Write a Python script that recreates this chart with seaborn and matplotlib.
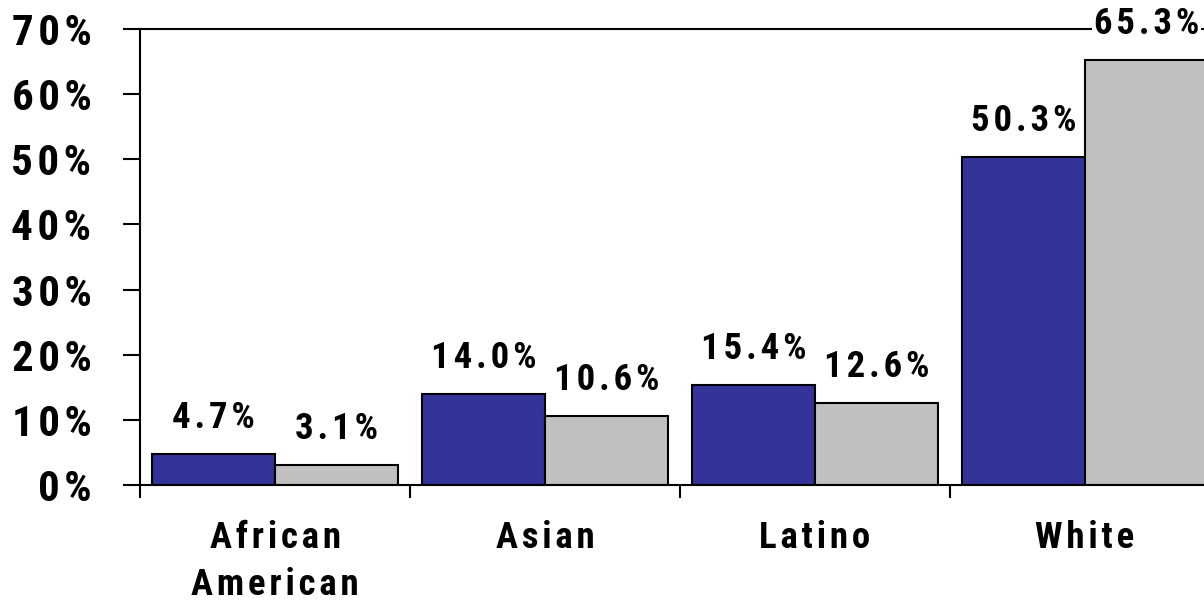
import matplotlib
matplotlib.use("Agg")
import matplotlib.pyplot as plt
import seaborn as sns
import pandas as pd
from matplotlib.ticker import FixedLocator

# data
categories = ["African\nAmerican", "Asian", "Latino", "White"]
series_names = ["Series 1", "Series 2"]
series1 = [4.7, 14.0, 15.4, 50.3]
series2 = [3.1, 10.6, 12.6, 65.3]
y_ticks = [0, 10, 20, 30, 40, 50, 60, 70]

BLUE = "#333399"
GRAY = "#C0C0C0"
HAIR = "\u200a"


def spaced(s):
    # the original uses wide letter spacing -> hair spaces between characters
    return "\n".join(HAIR.join(list(line)) for line in s.split("\n"))


df = pd.DataFrame({
    "category": categories * 2,
    "series": [series_names[0]] * 4 + [series_names[1]] * 4,
    "value": series1 + series2,
})

sns.set_theme(style="white")
plt.rcParams["font.family"] = ["Roboto Condensed", "PT Sans Narrow", "DejaVu Sans"]
plt.rcParams["font.weight"] = "bold"
plt.rcParams["text.color"] = "black"
plt.rcParams["xtick.color"] = "black"
plt.rcParams["ytick.color"] = "black"

fig = plt.figure(figsize=(12.04, 6.06), dpi=100)
ax = fig.add_axes([140 / 1204, 121 / 606, 1080 / 1204, 456 / 606])

sns.barplot(data=df, x="category", y="value", hue="series", order=categories,
            hue_order=series_names, palette=[BLUE, GRAY], width=0.91,
            edgecolor="black", linewidth=1.5, saturation=1, legend=False, ax=ax)

ax.set_xlim(-0.5, 3.5)
ax.set_ylim(0, 70)
ax.set_xlabel("")
ax.set_ylabel("")

# y axis
ax.set_yticks(y_ticks)
ax.set_yticklabels([spaced(f"{t}%") for t in y_ticks], fontsize=31, fontweight="bold")
ax.tick_params(axis="y", left=True, direction="out", length=12, width=1.5, pad=23)

# x axis: labels at centres, ticks at category boundaries
ax.set_xticks(range(len(categories)))
ax.set_xticklabels([spaced(c) for c in categories], fontsize=26.5, fontweight="bold",
                   linespacing=1.4, va="top")
ax.tick_params(axis="x", which="major", bottom=True, length=0, pad=25)
ax.xaxis.set_minor_locator(FixedLocator([-0.5, 0.5, 1.5, 2.5, 3.5]))
ax.tick_params(axis="x", which="minor", bottom=True, direction="out", length=9, width=1.5)

for side in ["left", "bottom", "top"]:
    ax.spines[side].set_visible(True)
    ax.spines[side].set_color("black")
    ax.spines[side].set_linewidth(1.5)
ax.spines["right"].set_visible(False)

# value labels above each bar
for container in ax.containers:
    for bar in container:
        h = bar.get_height()
        ax.annotate(spaced(f"{h:.1f}%"), (bar.get_x() + bar.get_width() / 2, h),
                    xytext=(0, 26), textcoords="offset points", ha="center", va="center",
                    fontsize=26.5, fontweight="bold",
                    bbox=dict(boxstyle="square,pad=0.05", fc="white", ec="none"),
                    annotation_clip=False, zorder=5)

fig.savefig("out.png", dpi=100)
